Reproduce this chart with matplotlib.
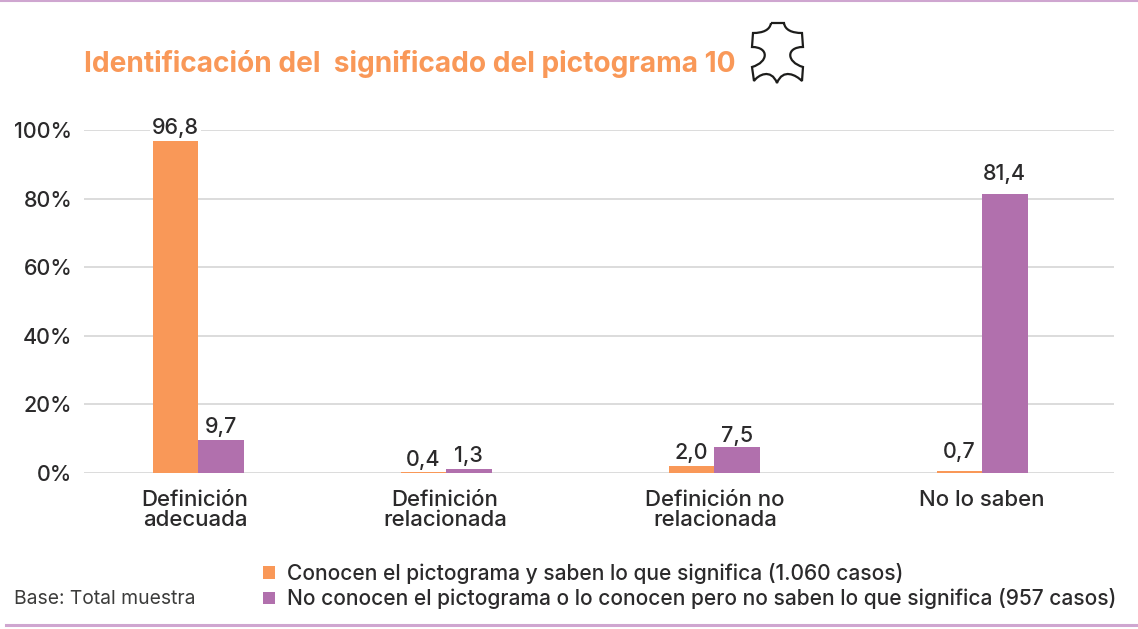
import matplotlib
matplotlib.use('Agg')
import matplotlib.pyplot as plt
from matplotlib.path import Path
from matplotlib.patches import PathPatch

plt.rcParams['font.family'] = ['Inter', 'DejaVu Sans']

categorias = ['Definición\nadecuada', 'Definición\nrelacionada', 'Definición no\nrelacionada', 'No lo saben']
conocen = [96.8, 0.4, 2.0, 0.7]
no_conocen = [9.7, 1.3, 7.5, 81.4]
etiquetas_conocen = ['96,8', '0,4', '2,0', '0,7']
etiquetas_no_conocen = ['9,7', '1,3', '7,5', '81,4']
ticks_y = [0, 20, 40, 60, 80, 100]
leyenda = ['Conocen el pictograma y saben lo que significa (1.060 casos)',
           'No conocen el pictograma o lo conocen pero no saben lo que significa (957 casos)']

# centros de los grupos, en pixeles de la imagen (no estan equiespaciados)
centros = [198, 446, 714, 982]
centros_texto = [195, 445, 715, 982]
ancho = 45.5
# separacion de cada etiqueta sobre su barra, en puntos
sep_conocen = [2, 1, 2, 6]
sep_no_conocen = [2, 2, 1, 7]

NARANJA = '#f99858'
VIOLETA = '#b170ad'
LINEA = '#cfa6d0'
TEXTO = '#2b2a2b'
W, H = 1138, 629

fig = plt.figure(figsize=(W / 100, H / 100), dpi=100)
ax = fig.add_axes([84 / W, 1 - 473 / H, (1114 - 84) / W, (473 - 130) / H])

ax.bar([c - ancho / 2 for c in centros], conocen, ancho, color=NARANJA, zorder=3)
ax.bar([c + ancho / 2 for c in centros], no_conocen, ancho, color=VIOLETA, zorder=3)

for c, v, t, s in zip(centros, conocen, etiquetas_conocen, sep_conocen):
    ax.annotate(t, (c - ancho / 2, v), xytext=(0, s), textcoords='offset points', ha='center', va='bottom',
                fontsize=15.5, color=TEXTO, fontweight='medium', zorder=4,
                bbox=dict(facecolor='white', edgecolor='none', pad=1.5))
for c, v, t, s in zip(centros, no_conocen, etiquetas_no_conocen, sep_no_conocen):
    ax.annotate(t, (c + ancho / 2, v), xytext=(0, s), textcoords='offset points', ha='center', va='bottom',
                fontsize=15.5, color=TEXTO, fontweight='medium', zorder=4)

ax.set_xlim(84, 1114)
ax.set_ylim(0, 100)
ax.set_xticks(centros_texto)
ax.set_xticklabels(categorias, fontsize=16, color=TEXTO, fontweight='medium', linespacing=1.05)
ax.set_yticks(ticks_y)
ax.set_yticklabels([f'{t}%' for t in ticks_y], fontsize=15.5, color=TEXTO, fontweight='medium')
ax.tick_params(axis='x', length=0, pad=12)
ax.tick_params(axis='y', length=0, pad=8.5)
ax.grid(axis='y', color='#d6d6d6', linewidth=1.2, zorder=0)
ax.set_axisbelow(True)
for s in ax.spines.values():
    s.set_visible(False)

# capa en pixeles para titulo, icono, leyenda y filetes
capa = fig.add_axes([0, 0, 1, 1], zorder=5)
capa.set_xlim(0, W)
capa.set_ylim(H, 0)
capa.axis('off')
capa.patch.set_alpha(0)

capa.plot([0, W], [0.5, 0.5], color=LINEA, lw=1.5)
capa.plot([6, W], [625, 625], color=LINEA, lw=2.2)

capa.text(84, 64, 'Identificación del  significado del pictograma 10', color=NARANJA,
          fontsize=20.2, fontweight='bold', va='center', ha='left')

# icono de la piel, contorno con curvas de Bezier
verts = [(771, 23), (784, 23),
         (785, 30), (792, 33), (802, 33),
         (803, 47),
         (786, 47), (786, 62), (803, 67),
         (802, 81),
         (796, 75), (783, 68), (777, 83),
         (771, 68), (758, 75), (754, 81),
         (752, 67),
         (769, 62), (769, 47), (752, 47),
         (753, 33),
         (763, 33), (770, 30), (771, 23)]
codes = [Path.MOVETO, Path.LINETO,
         Path.CURVE4, Path.CURVE4, Path.CURVE4,
         Path.LINETO,
         Path.CURVE4, Path.CURVE4, Path.CURVE4,
         Path.LINETO,
         Path.CURVE4, Path.CURVE4, Path.CURVE4,
         Path.CURVE4, Path.CURVE4, Path.CURVE4,
         Path.LINETO,
         Path.CURVE4, Path.CURVE4, Path.CURVE4,
         Path.LINETO,
         Path.CURVE4, Path.CURVE4, Path.CURVE4]
capa.add_patch(PathPatch(Path(verts, codes), fill=False, edgecolor='#1d1d1b', lw=1.6))

capa.scatter([269, 269], [572.5, 598], marker='s', s=75, color=[NARANJA, VIOLETA], linewidths=0)
capa.text(287, 573.5, leyenda[0], fontsize=15.1, color=TEXTO, fontweight='medium', va='center')
capa.text(287, 598.5, leyenda[1], fontsize=15.1, color=TEXTO, fontweight='medium', va='center')
capa.text(14, 599.5, 'Base: Total muestra', fontsize=13.9, color='#3c3c3b', va='center')

fig.savefig('out.png', dpi=100)
